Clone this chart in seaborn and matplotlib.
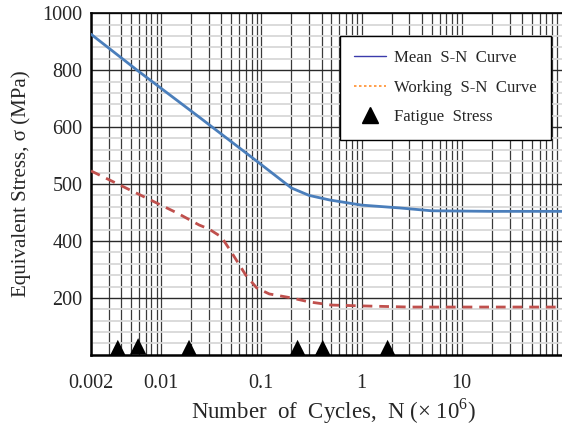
import numpy as np
import pandas as pd
import matplotlib
matplotlib.use("Agg")
import matplotlib.pyplot as plt
from matplotlib.lines import Line2D
from matplotlib.ticker import FixedLocator, NullFormatter
import seaborn as sns

# Mean S-N curve (cycles in millions, stress in MPa)
mean_N = [0.002, 0.00575, 0.024, 0.095, 0.2, 0.3, 0.48, 1.0, 2.4, 5.0, 20.0, 100.0]
mean_S = [926, 800, 635, 537, 493, 480, 472, 463, 458, 453, 452, 452]

# Working S-N curve
work_N = [0.002, 0.0145, 0.024, 0.03, 0.04, 0.05, 0.07, 0.09, 0.12, 0.2, 0.3, 0.5, 1.0, 3.0, 100.0]
work_S = [523, 449, 428, 421, 407, 362, 280, 235, 214, 200, 186, 175, 172, 168, 168]

# Fatigue stress points
fat_N = [0.0037, 0.0059, 0.019, 0.23, 0.41, 1.82]
fat_S = [24, 30, 24, 24, 24, 24]

# y axis is drawn with uneven label spacing
y_vals = [0, 200, 400, 500, 600, 800, 1000]
y_pos = [0, 1, 2, 3, 4, 5, 6]
x_ticks = [0.002, 0.01, 0.1, 1, 10]
x_labels = ["0.002", "0.01", "0.1", "1", "10"]


def fwd(v):
    return np.interp(v, y_vals, y_pos)


def inv(p):
    return np.interp(p, y_pos, y_vals)


sns.set_style("white")
plt.rcParams["font.family"] = ["Liberation Serif", "DejaVu Serif"]
plt.rcParams["mathtext.fontset"] = "custom"
plt.rcParams["mathtext.rm"] = "Liberation Serif"

fig = plt.figure(figsize=(5.62, 4.25), dpi=100)
ax = fig.add_axes([0.162, 0.165, 0.838, 0.804])

ax.set_xscale("log")
ax.set_yscale("function", functions=(fwd, inv))

mean_df = pd.DataFrame({"N": mean_N, "S": mean_S})
work_df = pd.DataFrame({"N": work_N, "S": work_S})
fat_df = pd.DataFrame({"N": fat_N, "S": fat_S})

sns.lineplot(data=mean_df, x="N", y="S", ax=ax, color="#4a7ebb", lw=2.0, zorder=4)
sns.lineplot(data=work_df, x="N", y="S", ax=ax, color="#c0504d", lw=2.0,
             dashes=False, zorder=4).lines[-1].set_dashes((3.5, 2.5))
sns.scatterplot(data=fat_df, x="N", y="S", ax=ax, marker="^", color="black",
                s=140, edgecolor="none", zorder=5)

ax.set_xlim(0.002, 100)
ax.set_ylim(0, 1000)

ax.set_xticks(x_ticks)
ax.set_xticklabels(x_labels)
minor_x = [m * 10.0 ** e for e in range(-3, 2) for m in range(2, 10)]
ax.xaxis.set_minor_locator(FixedLocator(minor_x))
ax.xaxis.set_minor_formatter(NullFormatter())

ax.set_yticks([200, 400, 500, 600, 800, 1000])
ax.set_yticklabels(["200", "400", "500", "600", "800", "1000"])
minor_y = [inv(p) for p in np.arange(0, 6.001, 0.2) if abs(p - round(p)) > 1e-6]
ax.yaxis.set_minor_locator(FixedLocator(minor_y))
ax.yaxis.set_minor_formatter(NullFormatter())

ax.grid(which="major", axis="x", color="#3a3a3a", lw=0.9)
ax.grid(which="minor", axis="x", color="#3a3a3a", lw=0.9)
ax.grid(which="major", axis="y", color="#2a2a2a", lw=1.0)
ax.grid(which="minor", axis="y", color="#d8d8d8", lw=1.3)
ax.set_axisbelow(True)

ax.tick_params(which="both", length=0, labelsize=14.5, pad=14)
ax.tick_params(axis="y", pad=6)

for s in ["left", "bottom"]:
    ax.spines[s].set_color("black")
    ax.spines[s].set_linewidth(1.8)
ax.spines["top"].set_color("black")
ax.spines["top"].set_linewidth(1.2)
ax.spines["right"].set_visible(False)

ax.set_xlabel("Number  of  Cycles,  N (× 10$^6$)", fontsize=16.5)
ax.xaxis.set_label_coords(0.516, -0.122)
ax.xaxis.label.set_verticalalignment("top")
ax.set_ylabel("Equivalent Stress, σ (MPa)", fontsize=15, labelpad=8)

handles = [
    Line2D([], [], color="#3b3bab", lw=1.0),
    Line2D([], [], color="#ff8f2e", lw=1.2, ls=(0, (1.5, 1.5))),
    Line2D([], [], color="black", marker="^", ls="none", markersize=11),
]
leg = ax.legend(handles, ["Mean  S-N  Curve", "Working  S-N  Curve", "Fatigue  Stress"],
                loc="upper right", bbox_to_anchor=(0.977, 0.933), borderaxespad=0,
                fontsize=12.1, frameon=True, fancybox=False, framealpha=1,
                handlelength=1.9, handletextpad=0.5, labelspacing=0.8,
                borderpad=0.85)
leg.get_frame().set_edgecolor("black")
leg.get_frame().set_linewidth(1.0)

fig.savefig("out.png", dpi=100)
